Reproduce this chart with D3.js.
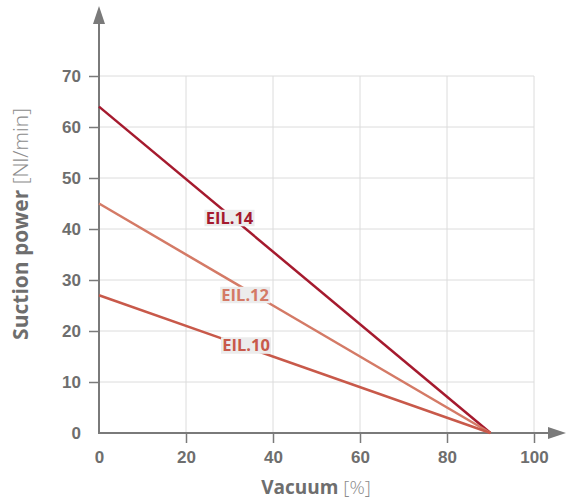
<!DOCTYPE html>
<html><head><meta charset="utf-8">
<script src="https://cdn.jsdelivr.net/npm/d3@7"></script>
<style>
body{margin:0;background:#fff;}
svg{display:block;font-family:"Open Sans","Noto Sans",sans-serif;}
</style></head>
<body>
<svg id="c" width="566" height="499"></svg>
<script>
const xTicks = [0, 20, 40, 60, 80, 100];
const yTicks = [0, 10, 20, 30, 40, 50, 60, 70];
const seriesNames = ["EIL.14", "EIL.12", "EIL.10"];
const seriesColors = ["#a51a2e", "#d47a66", "#c8594a"];
const seriesStart = [64, 45, 27];   // suction power at 0% vacuum
const seriesEnd = [0, 0, 0];        // suction power at 90% vacuum
const vacuumPoints = [0, 90];
const labelX = [30, 33.6, 33.8];
const labelY = [42.2, 27.1, 17.2];

const svg = d3.select("#c");
const x = d3.scaleLinear().domain([0, 100]).range([99, 534]);
const y = d3.scaleLinear().domain([0, 70]).range([433, 76]);
const axisCol = "#7a7a7a", gridCol = "#dcdcdc", textCol = "#6e6e6e";

// grid
svg.append("g").selectAll("line").data(yTicks.filter(d => d > 0)).join("line")
  .attr("x1", x(0)).attr("x2", x(100)).attr("y1", d => y(d)).attr("y2", d => y(d))
  .attr("stroke", gridCol).attr("stroke-width", 1);
svg.append("g").selectAll("line").data(xTicks.filter(d => d > 0)).join("line")
  .attr("x1", d => x(d)).attr("x2", d => x(d)).attr("y1", y(0)).attr("y2", y(70))
  .attr("stroke", gridCol).attr("stroke-width", 1);

// axes
const xAxis = d3.axisBottom(x).tickValues(xTicks).tickSize(10).tickPadding(8);
const gx = svg.append("g").attr("transform", `translate(0,${y(0)})`).call(xAxis);
gx.select(".domain").remove();
gx.selectAll("line").attr("stroke", axisCol).attr("stroke-width", 1.5);
gx.selectAll("text").attr("fill", textCol).attr("font-size", 17).attr("font-weight", 600);
gx.selectAll(".tick").filter(d => d === 0).select("line").remove();

const yAxis = d3.axisLeft(y).tickValues(yTicks).tickSize(10).tickPadding(8);
const gy = svg.append("g").attr("transform", `translate(${x(0)},0)`).call(yAxis);
gy.select(".domain").remove();
gy.selectAll("line").attr("stroke", axisCol).attr("stroke-width", 1.5);
gy.selectAll("text").attr("fill", textCol).attr("font-size", 17).attr("font-weight", 600);
gy.selectAll(".tick").filter(d => d === 0).select("line").remove();

// axis lines with arrows
svg.append("line").attr("x1", x(0)).attr("x2", 552).attr("y1", y(0)).attr("y2", y(0))
  .attr("stroke", axisCol).attr("stroke-width", 2);
svg.append("path").attr("d", `M566,${y(0)} L548,${y(0)-6} L548,${y(0)+6} Z`).attr("fill", axisCol);
svg.append("line").attr("x1", x(0)).attr("x2", x(0)).attr("y1", y(0)+1).attr("y2", 20)
  .attr("stroke", axisCol).attr("stroke-width", 2);
svg.append("path").attr("d", `M${x(0)},6 L${x(0)-6},24 L${x(0)+6},24 Z`).attr("fill", axisCol);

// lines
const line = d3.line().x(d => x(d[0])).y(d => y(d[1]));
seriesNames.forEach((n, i) => {
  const pts = [[vacuumPoints[0], seriesStart[i]], [vacuumPoints[1], seriesEnd[i]]];
  svg.append("path").attr("d", line(pts)).attr("fill", "none")
    .attr("stroke", seriesColors[i]).attr("stroke-width", 2.5);
});

// labels
seriesNames.forEach((n, i) => {
  const g = svg.append("g").attr("transform", `translate(${x(labelX[i])},${y(labelY[i])})`);
  g.append("rect").attr("x", -25).attr("y", -8).attr("width", 50)
    .attr("height", 16.5).attr("fill", "#ececec");
  g.append("text").attr("text-anchor", "middle").attr("dy", "0.37em")
    .attr("font-size", 16.5).attr("font-weight", 700).attr("fill", seriesColors[i]).text(n);
});

// axis titles
const yt = svg.append("text").attr("transform", "translate(28,224) rotate(-90)")
  .attr("text-anchor", "middle").attr("font-size", 21).attr("fill", textCol);
yt.append("tspan").attr("font-weight", 700).text("Suction power ");
yt.append("tspan").attr("font-weight", 300).attr("fill", "#8c8c8c").text("[Nl/min]");

const xt = svg.append("text").attr("x", 316).attr("y", 494)
  .attr("text-anchor", "middle").attr("font-size", 19).attr("fill", textCol);
xt.append("tspan").attr("font-weight", 700).text("Vacuum ");
xt.append("tspan").attr("font-weight", 300).attr("fill", "#8c8c8c").text("[%]");
</script>
</body></html>
